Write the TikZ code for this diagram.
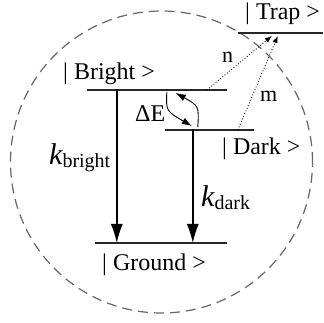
\documentclass[tikz,border=0pt]{standalone}
\usepackage{fontspec}
\setmainfont{Liberation Serif}
\usetikzlibrary{arrows.meta,calc,positioning}

\newcommand{\ratek}[1]{{\fontsize{30}{34}\selectfont\itshape k}\raisebox{-3pt}{\fontsize{20}{24}\selectfont #1}}

\begin{document}
\begin{tikzpicture}[
			x=1pt, y=-1pt,
			>=Latex,
			levelnode/.style={inner sep=0pt, minimum height=0pt},
			level/.style={line width=1.8pt, draw=black!85},
			decay/.style={-{Latex[length=19pt,width=12pt]}, line width=1.4pt},
			exchange/.style={-{Latex[length=10pt,width=7pt]}, line width=0.9pt},
			trapping/.style={-{Latex[length=7pt,width=5.5pt]}, dotted, line width=0.9pt},
			lbl/.style={font=\fontsize{24}{28}\selectfont, inner sep=0pt, anchor=base west},
			rate/.style={inner sep=0pt, anchor=base west}
			]
			\useasboundingbox (0,0) rectangle (324,323);
			
			% dashed boundary
			\draw[black!60, line width=1.2pt, dash pattern=on 10pt off 6pt] (161.5,162) circle[radius=151pt];
			
			\node[levelnode, minimum width=85pt]  (trap)   at (280.5,33) {};
			\node[levelnode, minimum width=140pt] (bright) at (157,90) {};
			\node[levelnode, minimum width=89pt]  (dark)   at (209.5,130) {};
			\node[levelnode, minimum width=132pt] (ground) at (161,243) {};
			
			\draw[level] (trap.west) -- (trap.east);
			\draw[level] (bright.west) -- (bright.east);
			\draw[level] (dark.west) -- (dark.east);
			\draw[level] (ground.west) -- (ground.east);
			
			\node[lbl] (traplbl)   at (245,20)  {| Trap >};
			\node[lbl] (brightlbl) at (63,80)   {| Bright >};
			\node[lbl] (darklbl)   at (222,155) {| Dark >};
			\node[lbl] (groundlbl) at (102,270) {| Ground >};
			
			\coordinate (kbtop) at ($(bright.west)+(30,0)$);
			\coordinate (kdtop) at ($(dark.west)+(28,0)$);
			\draw[decay] (kbtop) -- (kbtop |- ground);
			\draw[decay] (kdtop) -- (kdtop |- ground);
			\node[rate] (kb) at (49,165) {\ratek{bright}};
			\node[rate] (kd) at (201,207) {\ratek{dark}};
			
			% exchange between bright and dark
			\coordinate (bdown) at ($(bright.west)+(80,2)$);
			\coordinate (dup)   at ($(dark.west)+(33,-3)$);
			\draw[exchange] (bdown) .. controls (166,111) .. ($(dark.west)+(27,-4)$);
			\draw[exchange] (dup) .. controls (199,106) .. ($(bright.west)+(89,3)$);
			\node[lbl] (dE) at (135,122) {ΔE};
			
			% trapping paths
			\coordinate (nstart) at ($(bright.west)+(120,0)$);
			\coordinate (mstart) at ($(dark.west)+(73,0)$);
			\draw[trapping] (nstart) -- ($(trap.west)+(34,3)$);
			\draw[trapping] (mstart) -- ($(trap.west)+(40,3)$);
			\node[lbl, font=\fontsize{22}{26}\selectfont] (n) at (222,63)  {n};
			\node[lbl, font=\fontsize{22}{26}\selectfont] (m) at (260,102) {m};
		\end{tikzpicture}
\end{document}
